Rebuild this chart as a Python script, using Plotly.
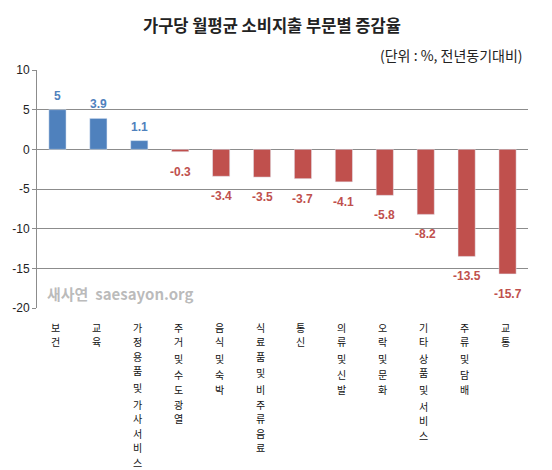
import plotly.graph_objects as go

categories = ["보건", "교육", "가정용품 및 가사서비스", "주거 및 수도광열", "음식 및 숙박",
              "식료품 및 비주류음료", "통신", "의류 및 신발", "오락 및 문화",
              "기타 상품 및 서비스", "주류 및 담배", "교통"]
values = [5, 3.9, 1.1, -0.3, -3.4, -3.5, -3.7, -4.1, -5.8, -8.2, -13.5, -15.7]
y_tickvals = [10, 5, 0, -5, -10, -15, -20]
y_ticktext = ["10", "5", "0", "-5", "-10", "-15", "-20"]

BLUE = "#4F81BD"
RED = "#C0504D"
colors = [BLUE if v >= 0 else RED for v in values]

fig = go.Figure()
fig.add_trace(go.Bar(x=categories, y=values, marker_color=colors, width=0.42,
                     hoverinfo="skip"))

# data labels
for c, v, col in zip(categories, values, colors):
    fig.add_annotation(x=c, y=v, text=f"<b>{v:g}</b>", showarrow=False,
                       yshift=14 if v >= 0 else -20,
                       font=dict(family="Liberation Sans, Arial", size=12, color=col))

# vertical (stacked) category labels, one character per text
FIRST = 19.0   # px below plot bottom to centre of first character
PITCH = 14.6
SPACE = 2.0
for c in categories:
    off = FIRST
    first = True
    for ch in c:
        if ch == " ":
            off += SPACE
            continue
        if not first:
            off += PITCH
        first = False
        fig.add_annotation(x=c, xref="x", y=0, yref="paper", yanchor="middle",
                           xshift=-2, yshift=-off, text=ch, showarrow=False, borderpad=0,
                           font=dict(family="Noto Sans CJK KR", size=10, color="#111"))

fig.add_annotation(xref="paper", yref="paper", x=0.478, y=1.0, yanchor="middle",
                   yshift=45, text="<b>가구당 월평균 소비지출 부문별 증감율</b>", showarrow=False,
                   font=dict(family="Noto Sans CJK KR", size=16.5, color="#222"))
fig.add_annotation(xref="paper", yref="paper", x=0.994, y=1.0, yanchor="middle",
                   yshift=15, xanchor="right", text="(단위 : %, 전년동기대비)", showarrow=False,
                   font=dict(family="Noto Sans CJK KR", size=14, color="#222"))
fig.add_annotation(xref="paper", yref="paper", x=0.016, y=0.063, xanchor="left",
                   yanchor="middle",
                   text="<b>새사연  saesayon.org</b>", showarrow=False,
                   font=dict(family="Noto Sans CJK KR", size=15, color="rgba(175,175,175,0.85)"))

fig.update_layout(
    width=552, height=470,
    margin=dict(l=37, r=24, t=70, b=162),
    paper_bgcolor="white", plot_bgcolor="white",
    showlegend=False,
    font=dict(family="Noto Sans CJK KR", size=12, color="#222"),
    xaxis=dict(showticklabels=False, showgrid=False, showline=False, ticks="",
               automargin=False),
    yaxis=dict(range=[-20, 10], tickvals=y_tickvals, ticktext=y_ticktext,
               automargin=False,
               showgrid=True, gridcolor="#8c8c8c", gridwidth=1,
               zeroline=True, zerolinecolor="#8c8c8c", zerolinewidth=1,
               showline=True, linecolor="#8c8c8c", ticks="outside", ticklen=4,
               tickcolor="#8c8c8c",
               tickfont=dict(size=12, family="Liberation Sans, Arial", color="#222")),
)

fig.write_html("out.html", config={"displayModeBar": False},
               post_script="document.body.style.margin='0px';")
